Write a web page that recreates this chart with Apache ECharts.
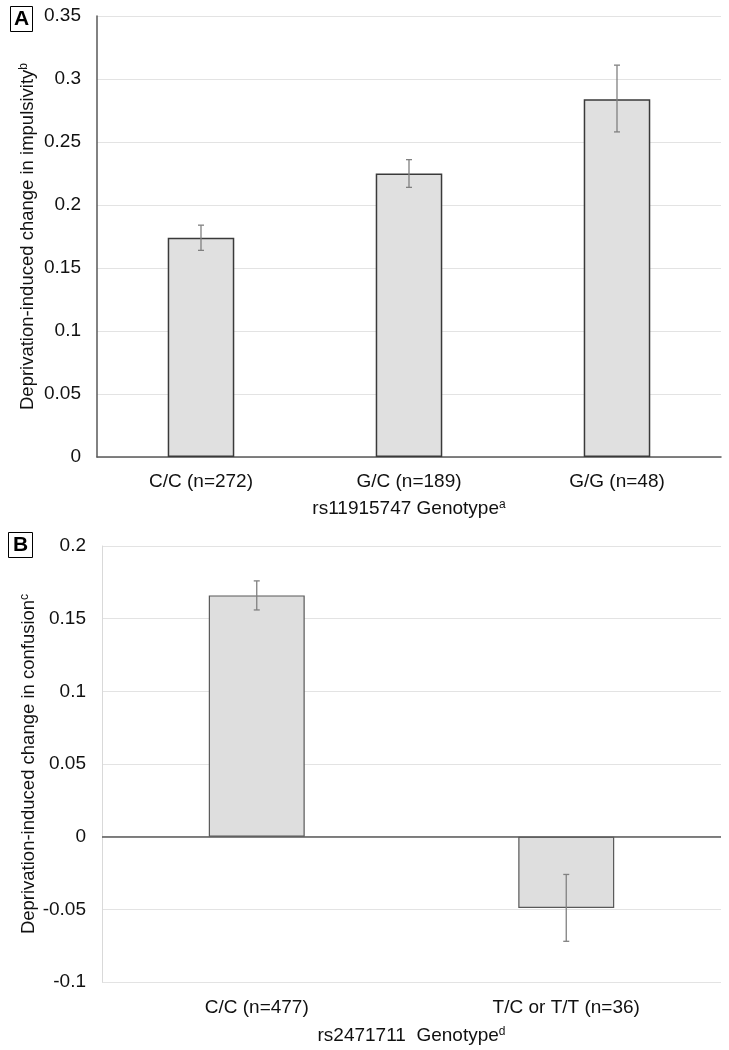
<!DOCTYPE html>
<html><head><meta charset="utf-8">
<script src="https://cdn.jsdelivr.net/npm/echarts@6/dist/echarts.min.js"></script>
<style>html,body{margin:0;padding:0;background:#fff}#c{width:729px;height:1050px}</style>
</head><body><div id="c"></div>
<script>
// Panel A data
var catsA = ['C/C (n=272)', 'G/C (n=189)', 'G/G (n=48)'];
var valsA = [0.174, 0.225, 0.284];
var errLowA = [0.164, 0.214, 0.258];
var errHighA = [0.184, 0.236, 0.311];
var ticksA = [0, 0.35, 0.05];
// Panel B data
var catsB = ['C/C (n=477)', 'T/C or T/T (n=36)'];
var valsB = [0.166, -0.049];
var errLowB = [0.156, -0.072];
var errHighB = [0.176, -0.026];
var ticksB = [-0.1, 0.2, 0.05];

var FONT = '"Liberation Sans", Arial, sans-serif';
var fmt = function (v) { return String(parseFloat(v.toFixed(2))); };

function errData(lo, hi) {
  return lo.map(function (l, i) { return [i, l, hi[i]]; });
}
function errRender(params, api) {
  var lo = api.coord([api.value(0), api.value(1)]);
  var hi = api.coord([api.value(0), api.value(2)]);
  var cw = 3;
  var st = { stroke: '#808080', lineWidth: 1.3, fill: null };
  return {
    type: 'group',
    children: [
      { type: 'line', shape: { x1: lo[0], y1: lo[1], x2: hi[0], y2: hi[1] }, style: st },
      { type: 'line', shape: { x1: lo[0] - cw, y1: lo[1], x2: lo[0] + cw, y2: lo[1] }, style: st },
      { type: 'line', shape: { x1: hi[0] - cw, y1: hi[1], x2: hi[0] + cw, y2: hi[1] }, style: st }
    ]
  };
}

var labelStyle = { color: '#111', fontSize: 19, fontFamily: FONT };
var nameRich = { sup: { fontSize: 12, fontFamily: FONT, color: '#111', verticalAlign: 'top' } };

var chart = echarts.init(document.getElementById('c'), null, { renderer: 'canvas' });
chart.setOption({
  animation: false,
  backgroundColor: '#fff',
  textStyle: { fontFamily: FONT },
  title: [
    { text: 'A', left: 10, top: 6, padding: [3, 4, 2, 4], borderColor: '#000', borderWidth: 1,
      textStyle: { fontSize: 21, fontWeight: 'bold', color: '#000', fontFamily: FONT } },
    { text: 'B', left: 8, top: 532, padding: [3, 5, 2, 5], borderColor: '#000', borderWidth: 1,
      textStyle: { fontSize: 21, fontWeight: 'bold', color: '#000', fontFamily: FONT } }
  ],
  grid: [
    { left: 97, right: 8, top: 16, height: 441 },
    { left: 102, right: 8, top: 546, height: 436 }
  ],
  xAxis: [
    { type: 'category', gridIndex: 0, data: catsA,
      axisLine: { show: true, lineStyle: { color: '#595959', width: 1.5 } },
      axisTick: { show: false },
      axisLabel: Object.assign({ margin: 15 }, labelStyle),
      name: 'rs11915747 Genotype{sup|a}', nameLocation: 'middle', nameGap: 42,
      nameTextStyle: { fontSize: 19, color: '#111', fontFamily: FONT, rich: nameRich } },
    { type: 'category', gridIndex: 1, data: catsB,
      axisLine: { show: false, onZero: false },
      axisTick: { show: false },
      axisLabel: Object.assign({ margin: 16 }, labelStyle),
      name: 'rs2471711  Genotype{sup|d}', nameLocation: 'middle', nameGap: 44,
      nameTextStyle: { fontSize: 19, color: '#111', fontFamily: FONT, rich: nameRich } }
  ],
  yAxis: [
    { type: 'value', gridIndex: 0, min: ticksA[0], max: ticksA[1], interval: ticksA[2],
      axisLine: { show: true, lineStyle: { color: '#595959', width: 1.5 } },
      axisTick: { show: false },
      splitLine: { lineStyle: { color: '#e3e3e3', width: 1.2 } },
      axisLabel: Object.assign({ margin: 16, formatter: fmt }, labelStyle),
      name: 'Deprivation-induced change in impulsivity{sup|b}', nameLocation: 'middle', nameGap: 60,
      nameMoveOverlap: false,
      nameTextStyle: { fontSize: 18.5, color: '#111', fontFamily: FONT, rich: nameRich } },
    { type: 'value', gridIndex: 1, min: ticksB[0], max: ticksB[1], interval: ticksB[2],
      axisLine: { show: true, lineStyle: { color: '#d9d9d9', width: 1 } },
      axisTick: { show: false },
      splitLine: { lineStyle: { color: '#e3e3e3', width: 1.2 } },
      axisLabel: Object.assign({ margin: 16, formatter: fmt }, labelStyle),
      name: 'Deprivation-induced change in confusion{sup|c}', nameLocation: 'middle', nameGap: 64,
      nameMoveOverlap: false,
      nameTextStyle: { fontSize: 18.5, color: '#111', fontFamily: FONT, rich: nameRich } }
  ],
  series: [
    { type: 'bar', xAxisIndex: 0, yAxisIndex: 0, data: valsA, barWidth: '32%',
      itemStyle: { color: '#e0e0e0', borderColor: '#3a3a3a', borderWidth: 1.5 } },
    { type: 'custom', xAxisIndex: 0, yAxisIndex: 0, data: errData(errLowA, errHighA),
      renderItem: errRender, z: 5 },
    { type: 'bar', xAxisIndex: 1, yAxisIndex: 1, data: valsB, barWidth: '31%',
      itemStyle: { color: '#dedede', borderColor: '#595959', borderWidth: 1.2 },
      markLine: { silent: true, symbol: 'none', label: { show: false },
        lineStyle: { color: '#595959', width: 1.5, type: 'solid' }, data: [{ yAxis: 0 }] } },
    { type: 'custom', xAxisIndex: 1, yAxisIndex: 1, data: errData(errLowB, errHighB),
      renderItem: errRender, z: 5 }
  ]
});
</script></body></html>
